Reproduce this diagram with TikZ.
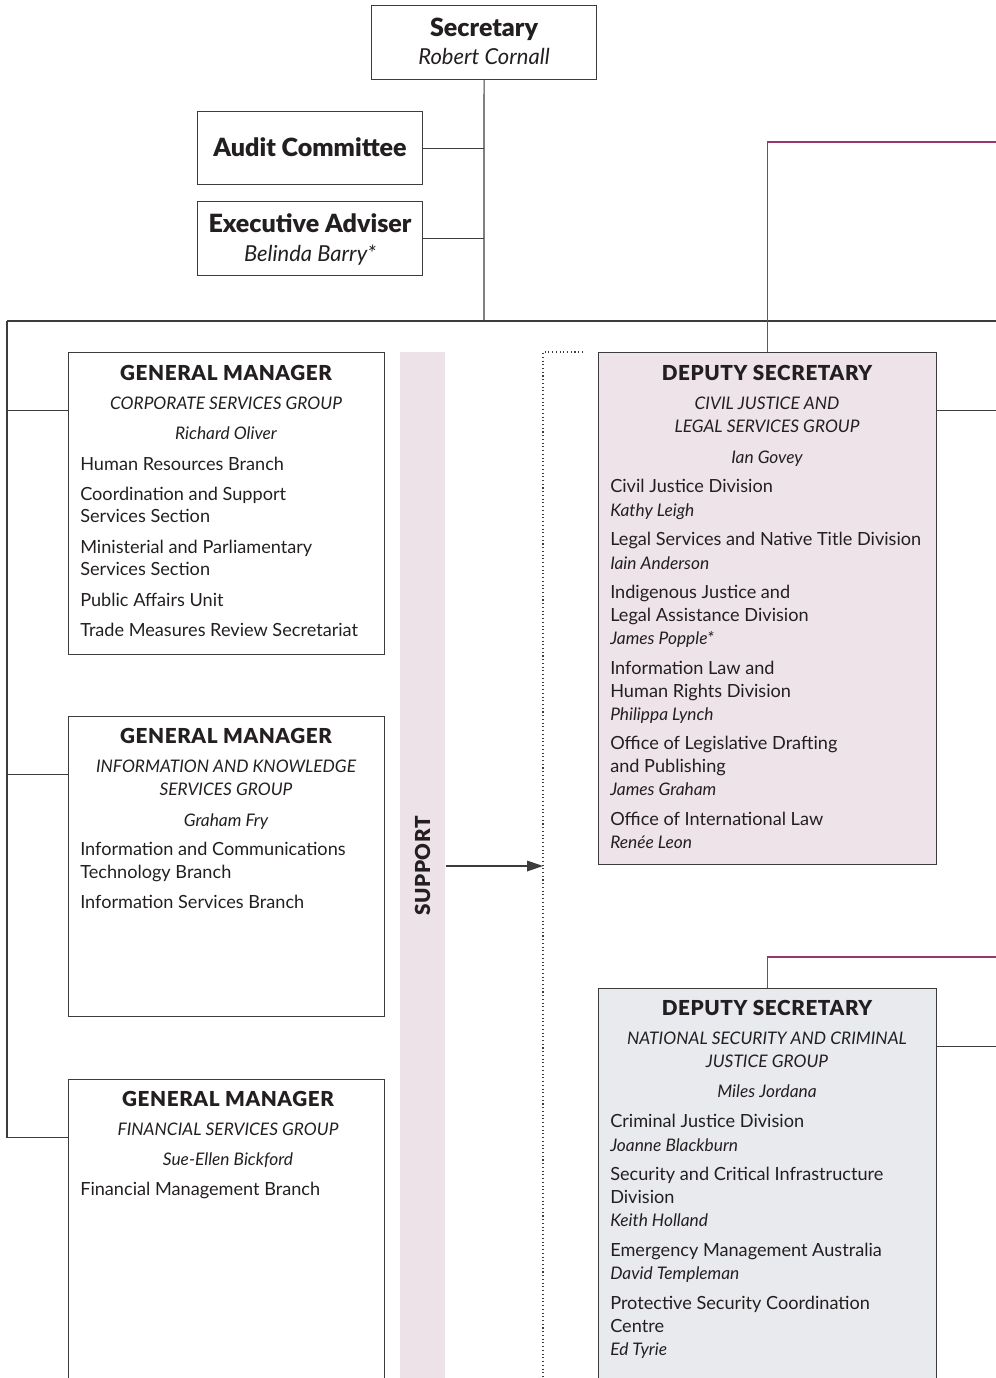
\documentclass[tikz,border=0pt]{standalone}
\usepackage{fontspec}
\setmainfont{Lato}[BoldFont={Lato Black}]
\usetikzlibrary{arrows.meta}
\definecolor{ink}{RGB}{35,31,32}
\definecolor{rulegrey}{RGB}{60,60,60}
\definecolor{plumline}{RGB}{150,55,110}
\definecolor{civilfill}{RGB}{237,227,232}
\definecolor{stripfill}{RGB}{236,226,231}
\definecolor{natfill}{RGB}{233,234,237}
\newcommand\who[1]{{\fontsize{13}{16}\selectfont\itshape #1}}

\tikzset{
    orgbox/.style={draw=rulegrey, line width=0.9pt, anchor=north west, inner sep=0pt},
    link/.style={draw=rulegrey, line width=0.9pt},
    deplink/.style={draw=plumline, line width=1.3pt},
    bigtitle/.style={font=\fontsize{18.8}{21}\selectfont\bfseries, text=ink, inner sep=0pt, text height=13pt, text depth=0pt},
    bigname/.style={font=\fontsize{16.5}{19}\selectfont\itshape, text=ink, inner sep=0pt, text height=11.5pt, text depth=0pt},
    title/.style={font=\fontsize{15.5}{18}\selectfont\bfseries\addfontfeature{LetterSpace=3}, text=ink, inner sep=0pt, text height=10.8pt, text depth=0pt},
    grp/.style={font=\fontsize{13}{16}\selectfont\itshape, text=ink, inner sep=0pt, text height=9.5pt, text depth=0pt},
    entry/.style={font=\fontsize{13.6}{16}\selectfont, text=ink, anchor=west, inner sep=0pt, text height=9.8pt, text depth=0pt}
}

\begin{document}
\begin{tikzpicture}[x=0.75pt, y=-0.75pt]
    \clip (0,0) rectangle (996,1378);

    \node[orgbox, minimum width=225*0.75pt, minimum height=74*0.75pt] (sec) at (371,5) {};
    \node[bigtitle] (sec-t) at (484,28) {Secretary};
    \node[bigname] (sec-n) at (484,57) {Robert Cornall};

    \node[orgbox, minimum width=225*0.75pt, minimum height=73*0.75pt] (aud) at (197,111) {};
    \node[bigtitle] (aud-t) at (310,148) {Audit Committee};

    \node[orgbox, minimum width=225*0.75pt, minimum height=74*0.75pt] (adv) at (197,201) {};
    \node[bigtitle] (adv-t) at (310,224) {Executive Adviser};
    \node[bigname] (adv-n) at (310,254) {Belinda Barry*};

    \node[orgbox, minimum width=316*0.75pt, minimum height=302*0.75pt] (gm1) at (68,352) {};
    \node[title] (gm1-t) at (226,373) {GENERAL MANAGER};
    \node[grp] (gm1-g) at (226,403) {CORPORATE SERVICES GROUP};
    \node[grp] (gm1-n) at (226,433) {Richard Oliver};
    \foreach \y/\t in {464/Human Resources Branch, 494/Coordination and Support,
        516/Services Section, 547/Ministerial and Parliamentary, 569/Services Section,
        600/Public Affairs Unit, 630/Trade Measures Review Secretariat}
        \node[entry] (gm1-\y) at (80,\y) {\t};

    \node[orgbox, minimum width=316*0.75pt, minimum height=300*0.75pt] (gm2) at (68,716) {};
    \node[title] (gm2-t) at (226,736) {GENERAL MANAGER};
    \node[grp] (gm2-g) at (226,766) {INFORMATION AND KNOWLEDGE};
    \node[grp] (gm2-h) at (226,789) {SERVICES GROUP};
    \node[grp] (gm2-n) at (226,820) {Graham Fry};
    \foreach \y/\t in {849/Information and Communications, 872/Technology Branch,
        902/Information Services Branch}
        \node[entry] (gm2-\y) at (80,\y) {\t};

    \node[orgbox, minimum width=316*0.75pt, minimum height=320*0.75pt] (gm3) at (68,1079) {};
    \node[title] (gm3-t) at (228,1099) {GENERAL MANAGER};
    \node[grp] (gm3-g) at (228,1129) {FINANCIAL SERVICES GROUP};
    \node[grp] (gm3-n) at (228,1159) {Sue-Ellen Bickford};
    \node[entry] (gm3-1189) at (80,1189) {Financial Management Branch};

    \node[fill=stripfill, anchor=north west, inner sep=0pt, minimum width=45*0.75pt, minimum height=1050*0.75pt] (strip) at (400,352) {};
    \node[title, rotate=90] (sup) at (423,866) {SUPPORT};

    \node[orgbox, fill=civilfill, minimum width=338*0.75pt, minimum height=512*0.75pt] (dep1) at (598,352) {};
    \node[title] (dep1-t) at (767,373) {DEPUTY SECRETARY};
    \node[grp] (dep1-g) at (767,403) {CIVIL JUSTICE AND};
    \node[grp] (dep1-h) at (767,426) {LEGAL SERVICES GROUP};
    \node[grp] (dep1-n) at (767,457) {Ian Govey};
    \foreach \y/\t in {486/Civil Justice Division, 510/\who{Kathy Leigh},
        539/Legal Services and Native Title Division, 563/\who{Iain Anderson},
        592/Indigenous Justice and, 615/Legal Assistance Division, 638/\who{James Popple*},
        668/Information Law and, 691/Human Rights Division, 714/\who{Philippa Lynch},
        743/Office of Legislative Drafting, 766/and Publishing, 789/\who{James Graham},
        819/Office of International Law, 842/\who{Renée Leon}}
        \node[entry] (dep1-\y) at (610,\y) {\t};

    \node[orgbox, fill=natfill, minimum width=338*0.75pt, minimum height=420*0.75pt] (dep2) at (598,988) {};
    \node[title] (dep2-t) at (767,1008) {DEPUTY SECRETARY};
    \node[grp] (dep2-g) at (767,1038) {NATIONAL SECURITY AND CRIMINAL};
    \node[grp] (dep2-h) at (767,1061) {JUSTICE GROUP};
    \node[grp] (dep2-n) at (767,1091) {Miles Jordana};
    \foreach \y/\t in {1121/Criminal Justice Division, 1145/\who{Joanne Blackburn},
        1174/Security and Critical Infrastructure, 1197/Division, 1220/\who{Keith Holland},
        1250/Emergency Management Australia, 1273/\who{David Templeman},
        1303/Protective Security Coordination, 1326/Centre, 1349/\who{Ed Tyrie}}
        \node[entry] (dep2-\y) at (610,\y) {\t};

    \coordinate (bus) at (484,321);
    \coordinate (busL) at (7,321);
    \coordinate (busR) at (1000,321);
    \coordinate (gm1-in) at ([yshift=-44pt]gm1.north west);
    \coordinate (gm2-in) at ([yshift=-44pt]gm2.north west);
    \coordinate (gm3-in) at ([yshift=-44pt]gm3.north west);
    \coordinate (dep1-out) at ([yshift=-44pt]dep1.north east);
    \coordinate (dep2-out) at ([yshift=-44pt]dep2.north east);
    \coordinate (dep1-up) at (1000,142);
    \coordinate (dep2-up) at (1000,957);
    \coordinate (dotT) at (583,352);
    \coordinate (dotC) at (543,352);
    \coordinate (dotB) at (543,1390);

    \draw[link] (sec.south) -- (bus);
    \draw[link] (aud.east) -- (aud.east -| bus);
    \draw[link] (adv.east) -- (adv.east -| bus);
    \draw[link] (busL) -- (busR);
    \draw[link] (busL) |- (gm3-in);
    \draw[link] (gm1-in) -- (gm1-in -| busL);
    \draw[link] (gm2-in) -- (gm2-in -| busL);
    \draw[link] (dep1-out) -- (dep1-out -| busR);
    \draw[link] (dep2-out) -- (dep2-out -| busR);
    \draw[deplink] (dep1.north) |- (dep1-up);
    \draw[deplink] (dep2.north) |- (dep2-up);
    \draw[rulegrey, dotted, line width=0.8pt] (dotT) -- (dotC) -- (dotB);
    \draw[link, -{Triangle[length=12pt, width=8pt]}] (strip.east |- sup) -- (dotC |- sup);
\end{tikzpicture}
\end{document}
